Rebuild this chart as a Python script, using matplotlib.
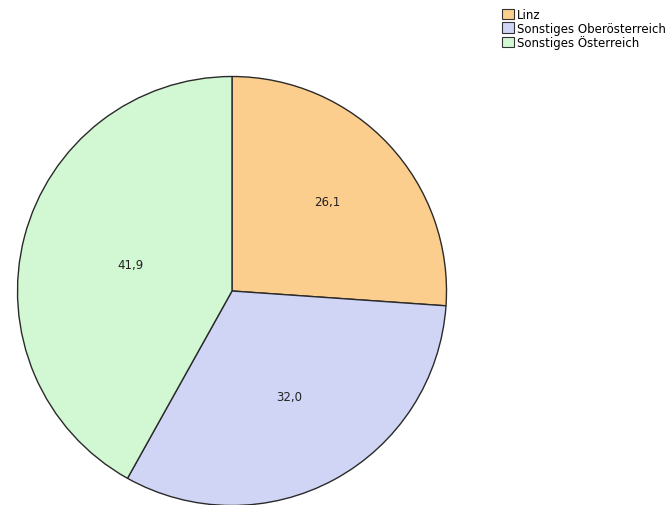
import matplotlib.pyplot as plt
import matplotlib.patches as mpatches
import numpy as np

labels = ["Linz", "Sonstiges Oberösterreich", "Sonstiges Österreich"]
values = [26.1, 32.0, 41.9]
colors = ["#fcce8e", "#d0d5f6", "#d2f7d3"]
# how far out each value label sits, as a fraction of the radius
label_dist = [0.61, 0.56, 0.49]

W, H = 669, 506
fig = plt.figure(figsize=(W / 100, H / 100), dpi=100)
ax = fig.add_axes([0, 0, 1, 1])

cx, cy, r = 232, H - 292, 214.5
wedges, _ = ax.pie(values, colors=colors, startangle=90, counterclock=False,
                   center=(cx, cy), radius=r, frame=True,
                   wedgeprops=dict(edgecolor="#2a2a2a", linewidth=1.0))

for w, v, d in zip(wedges, values, label_dist):
    mid = np.deg2rad((w.theta1 + w.theta2) / 2)
    ax.text(cx + d * r * np.cos(mid), cy + d * r * np.sin(mid),
            f"{v:.1f}".replace(".", ","), ha="center", va="center",
            fontsize=8.5, color="#222222")

ax.set_xlim(0, W)
ax.set_ylim(0, H)
ax.set_aspect("equal")
ax.axis("off")

handles = [mpatches.Patch(facecolor=c, edgecolor="#333333", linewidth=0.8) for c in colors]
fig.legend(handles, labels, loc="upper left", bbox_to_anchor=(502 / W, 1 - 9 / H),
           frameon=False, fontsize=8.5, handlelength=1.0, handleheight=1.0,
           handletextpad=0.25, labelspacing=0.05, borderpad=0, borderaxespad=0)

fig.savefig("out.png", dpi=100)
